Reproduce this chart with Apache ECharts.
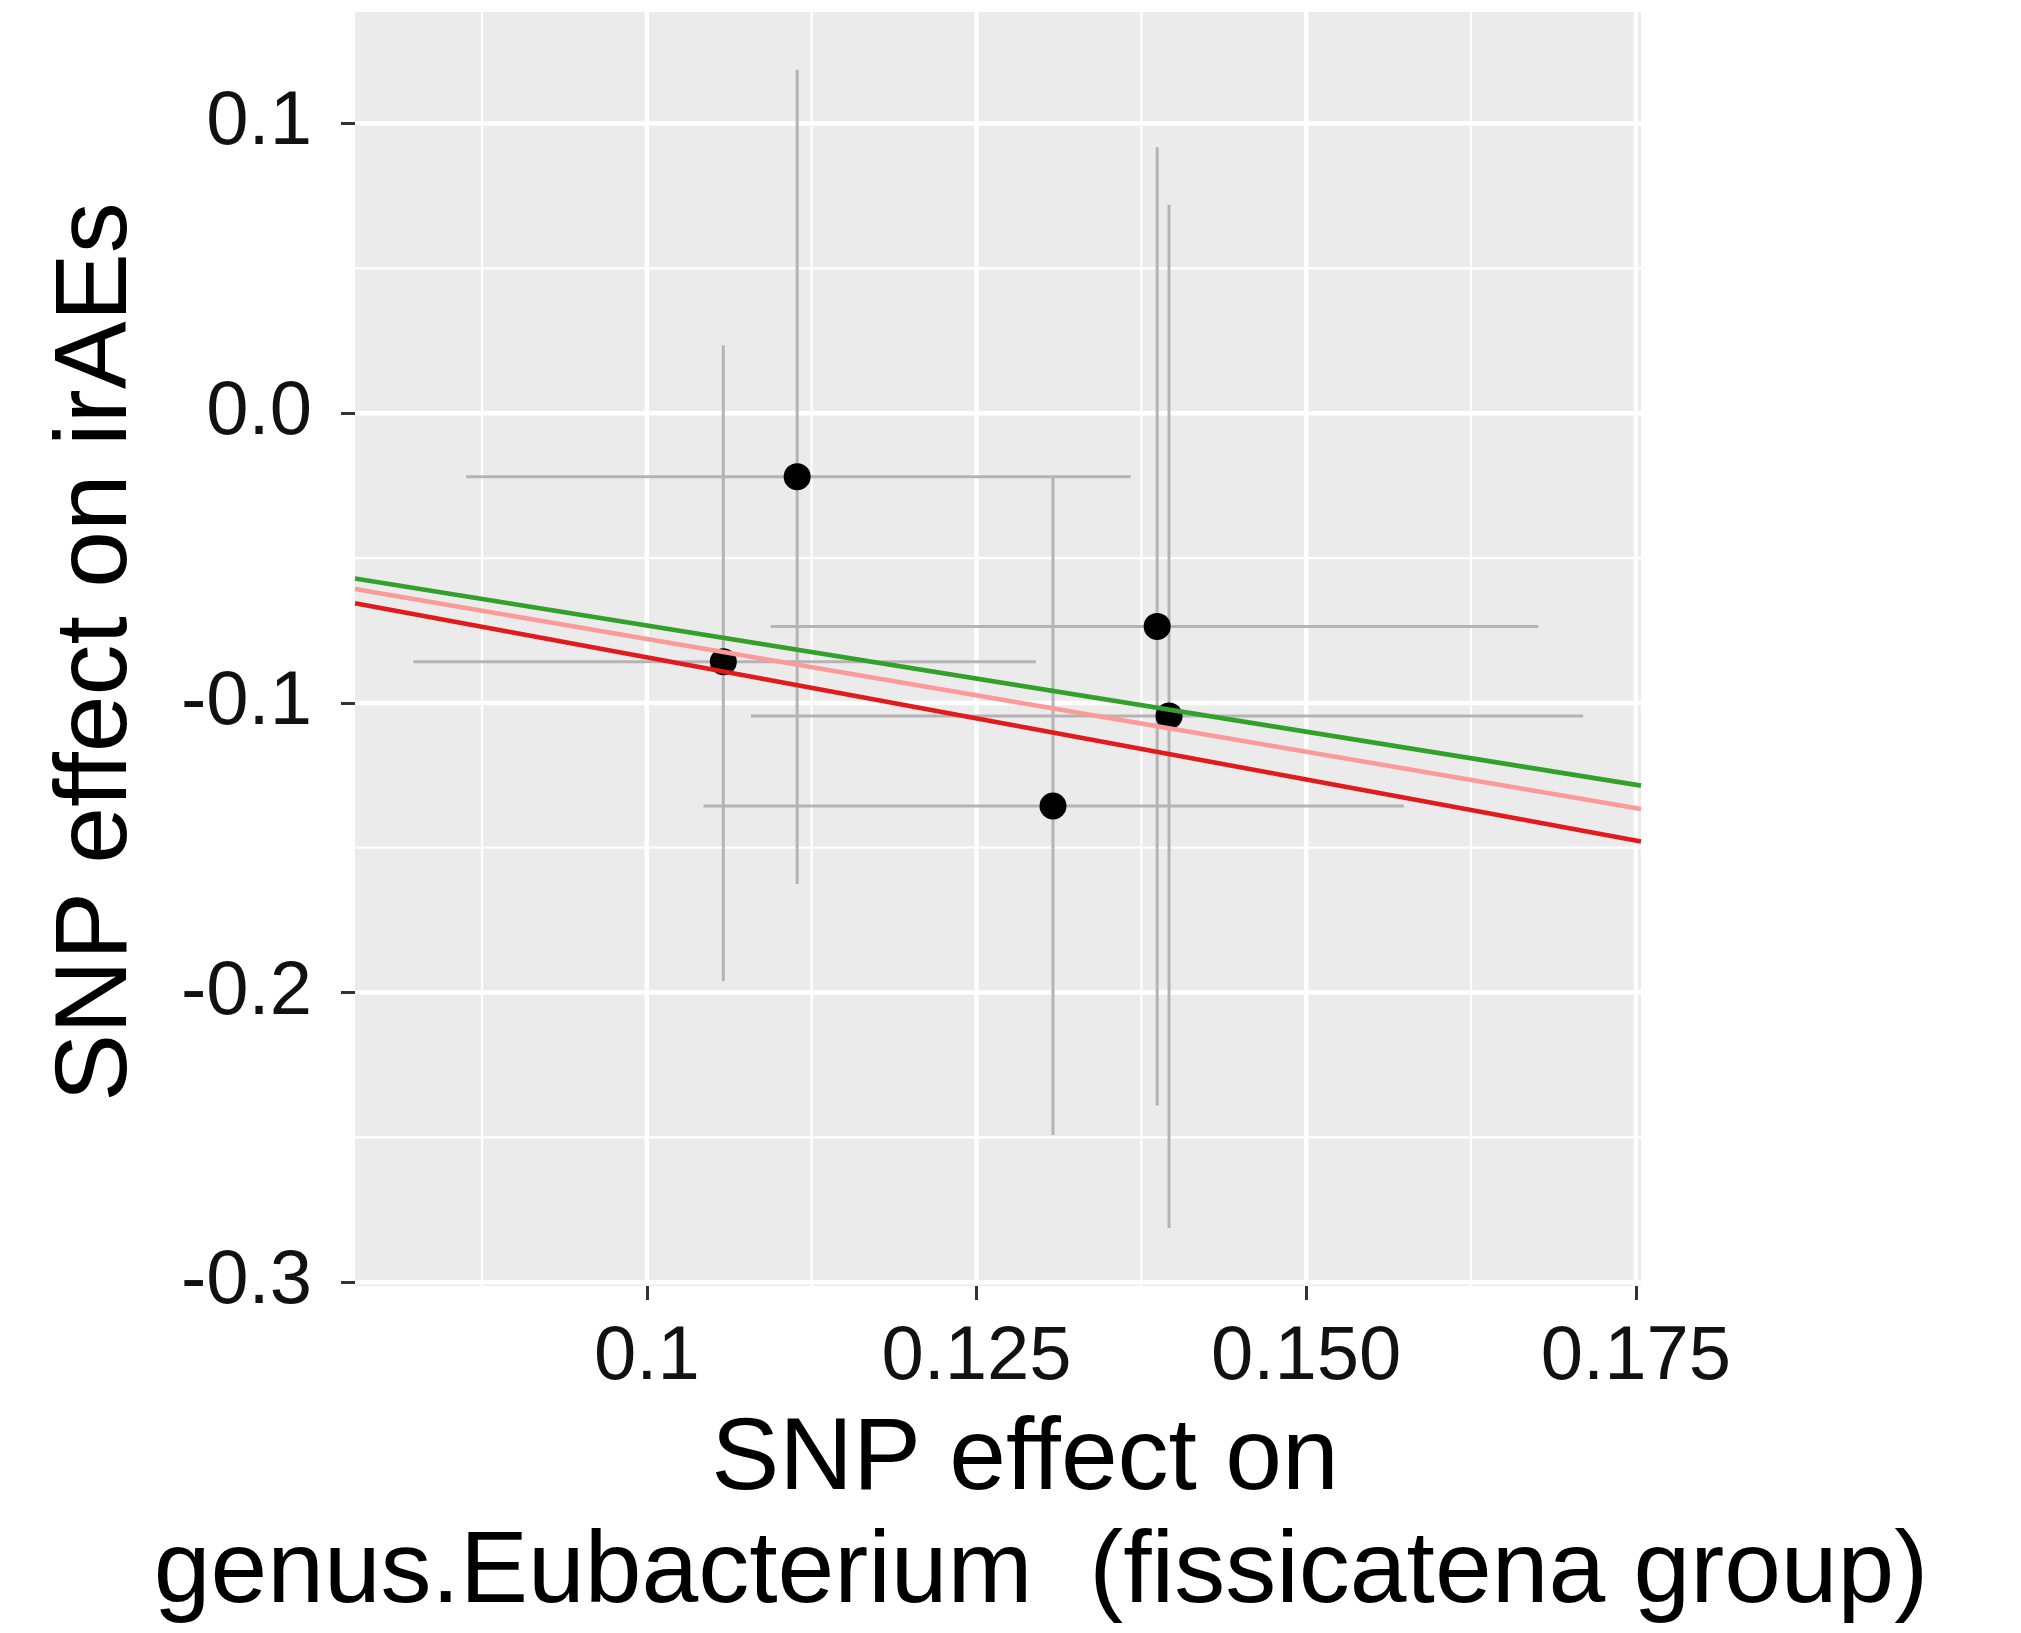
<!DOCTYPE html>
<html>
<head>
<meta charset="utf-8">
<script src="https://cdn.jsdelivr.net/npm/echarts@6/dist/echarts.min.js"></script>
<style>
html,body{margin:0;padding:0;background:#fff;}
#chart{width:2021px;height:1633px;}
</style>
</head>
<body>
<div id="chart"></div>
<script>
// ---- data ----
const snpX   = [0.1058, 0.1114, 0.1308, 0.1387, 0.1396];
const snpY   = [-0.0858, -0.0219, -0.1356, -0.0736, -0.1045];
const xLow   = [0.0823, 0.0863, 0.1043, 0.1094, 0.1079];
const xHigh  = [0.1295, 0.1367, 0.1574, 0.1676, 0.1710];
const yLow   = [-0.1960, -0.1625, -0.2492, -0.2390, -0.2813];
const yHigh  = [0.0235, 0.1186, -0.0224, 0.0918, 0.0720];
const lineSlopes = [-0.733, -0.779, -0.843];
const lineColors = ['#33a02c', '#fb9a99', '#e31a1c'];
const xTicks = [0.1, 0.125, 0.15, 0.175];
const xTickLabels = ['0.1', '0.125', '0.150', '0.175'];
const xMinorTicks = [0.0875, 0.1125, 0.1375, 0.1625];
const yTicks = [0.1, 0.0, -0.1, -0.2, -0.3];
const yTickLabels = ['0.1', '0.0', '-0.1', '-0.2', '-0.3'];
const yMinorTicks = [0.05, -0.05, -0.15, -0.25];
const xRange = [0.07787, 0.17539];
const yRange = [-0.3013, 0.1385];
const xTitleLines = ['SNP effect on', 'genus.Eubacterium  (fissicatena group)'];
const yTitle = 'SNP effect on irAEs';

const FONT = "'Liberation Sans', Arial, sans-serif";
const chart = echarts.init(document.getElementById('chart'), null, {renderer: 'canvas'});

// grid line items: [orientation(0=vertical,1=horizontal), value, width]
const gridItems = [];
xMinorTicks.forEach(v => gridItems.push([0, v, 2.2]));
yMinorTicks.forEach(v => gridItems.push([1, v, 2.2]));
xTicks.forEach(v => gridItems.push([0, v, 4.5]));
yTicks.forEach(v => gridItems.push([1, v, 4.5]));

const errData = snpX.map((x, i) => [x, snpY[i], xLow[i], xHigh[i], yLow[i], yHigh[i]]);

const lineSeries = lineSlopes.map((s, i) => ({
  type: 'line',
  data: [[xRange[0], s * xRange[0]], [xRange[1], s * xRange[1]]],
  symbol: 'none',
  lineStyle: {color: lineColors[i], width: 4.6},
  z: 5,
  silent: true,
  animation: false
}));

const tickFmt = (ticks, labels) => v => {
  const i = ticks.findIndex(t => Math.abs(t - v) < 1e-9);
  return i >= 0 ? labels[i] : '';
};

chart.setOption({
  animation: false,
  backgroundColor: '#ffffff',
  grid: {left: 355, top: 12, width: 1286, height: 1274, show: true,
         backgroundColor: '#EBEBEB', borderWidth: 0},
  xAxis: {
    type: 'value', min: xRange[0], max: xRange[1],
    axisLine: {show: false, onZero: false},
    splitLine: {show: false},
    minorSplitLine: {show: false},
    axisTick: {show: true, length: 14, lineStyle: {color: '#333333', width: 3},
               customValues: xTicks},
    axisLabel: {show: true, customValues: xTicks, margin: 34,
                fontFamily: FONT, fontSize: 76, color: '#111111',
                formatter: tickFmt(xTicks, xTickLabels)}
  },
  yAxis: {
    type: 'value', min: yRange[0], max: yRange[1],
    axisLine: {show: false, onZero: false},
    splitLine: {show: false},
    minorSplitLine: {show: false},
    axisTick: {show: true, length: 14, lineStyle: {color: '#333333', width: 3},
               customValues: yTicks},
    axisLabel: {show: true, customValues: yTicks, margin: 43,
                fontFamily: FONT, fontSize: 76, color: '#111111',
                formatter: tickFmt(yTicks, yTickLabels)}
  },
  series: [
    {
      type: 'custom', z: 1, silent: true,
      data: gridItems,
      encode: {x: [], y: []},
      renderItem: function (params, api) {
        const orient = api.value(0), v = api.value(1), w = api.value(2);
        let p1, p2;
        if (orient === 0) {
          p1 = api.coord([v, yRange[0]]); p2 = api.coord([v, yRange[1]]);
        } else {
          p1 = api.coord([xRange[0], v]); p2 = api.coord([xRange[1], v]);
        }
        return {type: 'line', shape: {x1: p1[0], y1: p1[1], x2: p2[0], y2: p2[1]},
                style: {stroke: '#ffffff', lineWidth: w}};
      }
    },
    {
      type: 'custom', z: 3, silent: true,
      data: errData,
      renderItem: function (params, api) {
        const x = api.value(0);
        const y = api.value(1);
        const h1 = api.coord([api.value(2), y]);
        const h2 = api.coord([api.value(3), y]);
        const v1 = api.coord([x, api.value(4)]);
        const v2 = api.coord([x, api.value(5)]);
        const st = {stroke: '#B4B4B4', lineWidth: 3, fill: null};
        return {type: 'group', children: [
          {type: 'line', shape: {x1: h1[0], y1: h1[1], x2: h2[0], y2: h2[1]}, style: st},
          {type: 'line', shape: {x1: v1[0], y1: v1[1], x2: v2[0], y2: v2[1]}, style: st}
        ]};
      }
    },
    {
      type: 'scatter', z: 4, silent: true,
      data: snpX.map((x, i) => [x, snpY[i]]),
      symbol: 'circle', symbolSize: 27,
      itemStyle: {color: '#000000', opacity: 1}
    }
  ].concat(lineSeries),
  graphic: [
    {type: 'text', x: 98, y: 652, rotation: Math.PI / 2,
     style: {text: yTitle, font: '102px ' + FONT, fill: '#000', textAlign: 'center', textVerticalAlign: 'middle'}},
    {type: 'text', x: 1025, y: 1461,
     style: {text: xTitleLines[0], font: '102px ' + FONT, fill: '#000', textAlign: 'center', textVerticalAlign: 'middle'}},
    {type: 'text', x: 1041, y: 1574,
     style: {text: xTitleLines[1], font: '102px ' + FONT, fill: '#000', textAlign: 'center', textVerticalAlign: 'middle'}}
  ]
});
</script>
</body>
</html>
